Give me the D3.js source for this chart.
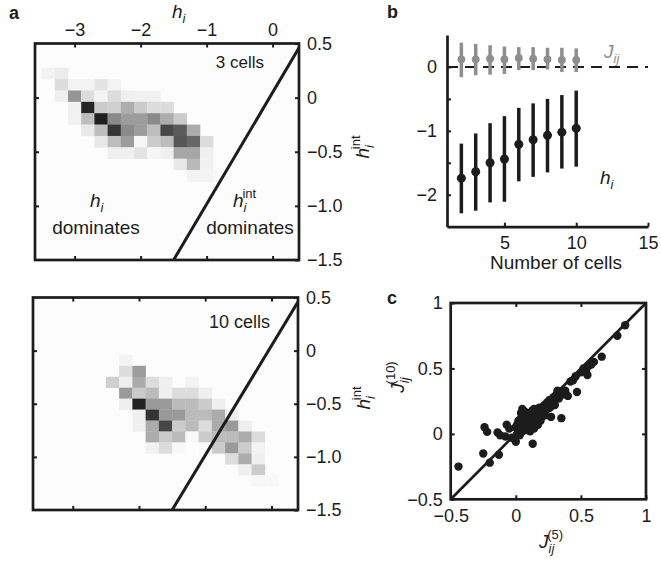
<!DOCTYPE html>
<html><head><meta charset="utf-8">
<script src="https://cdn.jsdelivr.net/npm/d3@7"></script>
<style>
body{margin:0;background:#fff;}
svg{display:block;font-family:"Liberation Sans",Arial,Helvetica,sans-serif;}
</style></head><body>
<svg id="chart" width="661" height="561"></svg>
<script>
// ---------------- DATA ----------------
// panel a
const hiTicks = [-3, -2, -1, 0];
const hintTicks = [0.5, 0, -0.5, -1, -1.5];
const hintLabels = ["0.5", "0", "\u22120.5", "\u22121.0", "\u22121.5"];
const binDx = 0.2;
// 3 cells histogram (rows top->bottom, columns from h = -3.5 in 0.2 steps), darkness 0..1
const heat3X0 = -3.5, heat3Y0 = 0.276, heat3Dy = 0.105;
const heat3 = [
  [0.05,0.08,0,0,0,0,0,0,0,0,0,0,0,0],
  [0,0.15,0.05,0.05,0.12,0.05,0,0,0,0,0,0,0,0],
  [0,0.07,0.45,0.15,0.05,0.15,0.07,0.06,0.06,0,0,0,0,0],
  [0,0,0.06,0.93,0.22,0.2,0.35,0.22,0.15,0.15,0,0,0,0],
  [0,0,0.06,0.28,0.95,0.5,0.42,0.42,0.5,0.35,0.22,0,0,0],
  [0,0,0,0.1,0.28,0.86,0.5,0.42,0.28,0.78,0.7,0.36,0,0],
  [0,0,0,0,0.1,0.28,0.42,0.04,0.22,0.28,0.72,0.65,0.15,0],
  [0,0,0,0,0,0.07,0.07,0.12,0.04,0.07,0.38,0.38,0.07,0],
  [0,0,0,0,0,0,0,0,0,0,0.1,0.3,0.06,0],
  [0,0,0,0,0,0,0,0,0,0,0,0.05,0.05,0.03]
];
// 10 cells histogram (columns from h = -2.5)
const heat10X0 = -2.5, heat10Y0 = -0.04, heat10Dy = 0.103;
const heat10 = [
  [0,0.05,0,0,0,0,0,0,0,0,0,0,0],
  [0,0.15,0.42,0,0,0,0,0,0,0,0,0,0],
  [0.2,0.07,0.36,0.15,0.07,0,0.05,0,0,0,0,0,0],
  [0,0.43,0.22,0.29,0.07,0.15,0.15,0.07,0,0,0,0,0],
  [0,0.07,0.94,0.43,0.43,0.29,0.29,0.22,0.07,0,0,0,0],
  [0,0,0.07,0.87,0.43,0.43,0.29,0.29,0.36,0.07,0,0,0],
  [0,0,0.07,0.36,0.79,0.22,0.29,0.15,0.36,0.43,0.07,0,0],
  [0,0,0,0.36,0.22,0.29,0.03,0.22,0.29,0.29,0.36,0.15,0],
  [0,0,0,0.06,0.15,0.03,0,0.03,0.22,0.43,0.22,0.05,0],
  [0,0,0,0,0,0,0,0,0,0.15,0.36,0.07,0],
  [0,0,0,0,0,0,0,0,0,0,0.07,0.22,0],
  [0,0,0,0,0,0,0,0,0,0,0,0.04,0.03]
];
const boundaryLine = [[-1.5, -1.5], [0.4, 0.46]];

// panel b
const nCells = [2, 3, 4, 5, 6, 7, 8, 9, 10];
const hMean = [-1.74, -1.64, -1.50, -1.44, -1.21, -1.14, -1.07, -1.02, -0.96];
const hLow  = [-2.29, -2.25, -2.12, -2.11, -1.79, -1.72, -1.65, -1.59, -1.56];
const hHigh = [-1.20, -1.04, -0.88, -0.77, -0.64, -0.57, -0.50, -0.44, -0.37];
const jMean = [0.12, 0.12, 0.13, 0.12, 0.14, 0.13, 0.12, 0.11, 0.11];
const jLow  = [-0.16, -0.13, -0.12, -0.11, -0.05, -0.05, -0.04, -0.08, -0.08];
const jHigh = [0.38, 0.36, 0.34, 0.32, 0.31, 0.31, 0.30, 0.30, 0.29];
const bYTicks = [0, -0.5, -1, -1.5, -2];
const bXTicks = [5, 10, 15];

// panel c
const cTicks = [-0.5, 0, 0.5, 1];
const cTickLabels = ["\u22120.5", "0", "0.5", "1"];
const j5  = [-0.44,-0.25,-0.2,-0.13,-0.24,-0.22,-0.14,-0.12,-0.08,-0.07,-0.05,-0.03,0.0,0.01,0.13,0.05,
  0.02,0.03,0.04,0.04,0.05,0.06,0.06,0.07,0.08,0.08,0.09,0.1,0.1,0.11,0.12,0.12,0.13,0.14,0.14,0.15,0.16,0.17,0.17,0.18,0.19,
  0.2,0.21,0.22,0.23,0.24,0.25,0.26,0.27,0.28,0.29,0.3,0.31,0.32,0.33,0.35,0.36,0.38,0.4,0.42,0.44,0.47,
  0.5,0.52,0.54,0.55,0.56,0.58,0.6,0.66,0.78,0.84,
  0.0,0.02,0.03,0.07,0.09,0.11,0.13,0.15,0.18,0.2,0.22,0.24,0.26,0.3,0.34,0.05,0.08,0.1,0.12,0.14,0.16,0.26,0.27,0.36,0.46,
  0.01,0.03,0.05,0.06,0.07,0.09,0.1,0.11,0.13,0.15,0.16,0.18,0.19,0.21,0.23,0.25,0.27,0.29,0.06,0.08,0.12,0.17,0.22,0.04,0.14];
const j10 = [-0.25,-0.15,-0.22,-0.16,0.05,0.015,0.01,-0.01,-0.02,0.07,0.04,-0.03,-0.06,0.0,-0.075,0.19,
  0.03,0.08,0.05,0.12,0.02,0.1,0.15,0.06,0.12,0.03,0.09,0.15,0.05,0.11,0.08,0.17,0.13,0.04,0.1,0.16,0.12,0.07,0.19,0.15,0.1,
  0.2,0.16,0.22,0.18,0.24,0.2,0.26,0.13,0.24,0.28,0.22,0.3,0.33,0.27,0.12,0.3,0.33,0.29,0.4,0.41,0.32,
  0.47,0.5,0.48,0.45,0.52,0.53,0.55,0.59,0.75,0.83,
  0.05,0.1,-0.01,0.17,0.14,0.02,0.18,0.09,0.2,0.13,0.17,0.19,0.22,0.27,0.31,0.09,0.07,0.1,0.13,0.14,0.17,0.2,0.13,0.33,0.44,
  0.07,0.04,0.13,0.08,0.1,0.06,0.13,0.14,0.1,0.12,0.08,0.13,0.17,0.19,0.2,0.23,0.21,0.25,0.04,0.16,0.06,0.11,0.14,0.16,0.19];

// ---------------- DRAW ----------------
const svg = d3.select("#chart");
const INK = "#1c1c1c";
const FS = 18;      // tick labels
const FM = 19;      // math / titles

function gray(v) { const c = Math.round(255 * (1 - 0.92 * v)); return `rgb(${c},${c},${c})`; }

function mathText(g, x, y, base, sub, sup, opt = {}) {
  const t = g.append("text").attr("x", x).attr("y", y)
    .attr("text-anchor", opt.anchor || "start")
    .attr("fill", opt.fill || INK).attr("font-size", FM);
  if (opt.rotate) t.attr("transform", `rotate(-90,${x},${y})`);
  t.append("tspan").attr("font-style", "italic").text(base);
  t.append("tspan").attr("font-style", "italic").attr("font-size", 13).attr("dy", 5).text(sub);
  if (sup) {
    const subW = opt.subW || 4;
    t.append("tspan").attr("font-size", 13).attr("dx", -subW).attr("dy", -14).text(sup);
  }
  return t;
}

function plainText(g, x, y, txt, size, anchor) {
  return g.append("text").attr("x", x).attr("y", y).attr("text-anchor", anchor || "middle")
    .attr("font-size", size).attr("fill", INK).text(txt);
}

function drawHeatPanel(box, data, x0, y0, dy, label, labelPos, labelSize, annot) {
  const x = d3.scaleLinear([-3.6, 0.4], [box.l, box.r]);
  const y = d3.scaleLinear([-1.5, 0.5], [box.b, box.t]);
  const g = svg.append("g");
  const clipId = "clip" + Math.round(box.t);
  g.append("clipPath").attr("id", clipId).append("rect")
    .attr("x", box.l).attr("y", box.t).attr("width", box.r - box.l).attr("height", box.b - box.t);
  g.append("rect").attr("x", box.l).attr("y", box.t).attr("width", box.r - box.l).attr("height", box.b - box.t)
    .attr("fill", "#fcfcfc");
  const cells = [];
  data.forEach((row, r) => row.forEach((v, c) => { if (v > 0) cells.push({ r, c, v }); }));
  g.append("g").attr("clip-path", `url(#${clipId})`).selectAll("rect").data(cells).join("rect")
    .attr("x", d => x(x0 + d.c * binDx))
    .attr("y", d => y(y0 - d.r * dy))
    .attr("width", d => x(x0 + (d.c + 1) * binDx) - x(x0 + d.c * binDx) + 0.3)
    .attr("height", d => y(y0 - (d.r + 1) * dy) - y(y0 - d.r * dy) + 0.3)
    .attr("fill", d => gray(d.v));
  g.append("g").attr("clip-path", `url(#${clipId})`).append("line")
    .attr("x1", x(boundaryLine[0][0])).attr("y1", y(boundaryLine[0][1]))
    .attr("x2", x(boundaryLine[1][0])).attr("y2", y(boundaryLine[1][1]))
    .attr("stroke", INK).attr("stroke-width", 3);

  const top = g.append("g").attr("transform", `translate(0,${box.t})`)
    .call(d3.axisTop(x).tickValues(hiTicks).tickSize(-4).tickSizeOuter(0).tickPadding(8)
      .tickFormat(box.topLabels ? (d => d === 0 ? "0" : "\u2212" + Math.abs(d)) : () => ""));
  const bot = g.append("g").attr("transform", `translate(0,${box.b})`)
    .call(d3.axisBottom(x).tickValues(hiTicks).tickSize(-4).tickSizeOuter(0).tickFormat(() => ""));
  const left = g.append("g").attr("transform", `translate(${box.l},0)`)
    .call(d3.axisLeft(y).tickValues([0, -0.5, -1]).tickSize(-4).tickSizeOuter(0).tickFormat(() => ""));
  const right = g.append("g").attr("transform", `translate(${box.r},0)`)
    .call(d3.axisRight(y).tickValues(hintTicks).tickSize(-4).tickSizeOuter(0).tickPadding(8)
      .tickFormat((d, i) => hintLabels[i]));
  [top, bot, left, right].forEach(a => {
    a.select(".domain").remove();
    a.selectAll("line").attr("stroke", INK).attr("stroke-width", 2);
    a.selectAll("text").attr("font-size", FS).attr("fill", INK).attr("font-family", null);
  });
  g.append("rect").attr("x", box.l).attr("y", box.t).attr("width", box.r - box.l).attr("height", box.b - box.t)
    .attr("fill", "none").attr("stroke", INK).attr("stroke-width", 2.7);

  plainText(g, labelPos[0], labelPos[1], label, labelSize, "end");
  mathText(g, box.titleX, box.titleY, "h", "i", "int", { rotate: true, anchor: "middle" });
  if (annot) annot(g, x, y);
}

// panel a top
drawHeatPanel({ l: 35, r: 299, t: 43.5, b: 260, topLabels: true, titleX: 369, titleY: 147 },
  heat3, heat3X0, heat3Y0, heat3Dy, "3 cells", [264, 68], 17, (g) => {
    mathText(g, 172, 18, "h", "i", null);
    mathText(g, 90, 207, "h", "i", null);
    plainText(g, 96, 234, "dominates", FM);
    mathText(g, 233, 207, "h", "i", "int");
    plainText(g, 250, 234, "dominates", FM);
  });
// panel a bottom
drawHeatPanel({ l: 33, r: 298, t: 297.5, b: 510, topLabels: false, titleX: 370, titleY: 398 },
  heat10, heat10X0, heat10Y0, heat10Dy, "10 cells", [270, 328], 18, null);

svg.append("text").attr("x", 9).attr("y", 19).attr("font-weight", "bold").attr("font-size", 18).attr("fill", INK).text("a");

// ---------------- panel b ----------------
{
  const x = d3.scaleLinear([1, 15], [447, 648]);
  const y = d3.scaleLinear([-2.5, 0.5], [226.7, 35]);
  const g = svg.append("g");
  const ax = g.append("g").attr("transform", "translate(0,226.7)")
    .call(d3.axisBottom(x).tickValues(bXTicks).tickSize(-4).tickSizeOuter(0).tickPadding(10));
  const ay = g.append("g").attr("transform", "translate(447,0)")
    .call(d3.axisLeft(y).tickValues(bYTicks).tickSize(-4).tickSizeOuter(0).tickPadding(10)
      .tickFormat(d => Number.isInteger(d) ? (d < 0 ? "\u2212" + Math.abs(d) : "0") : ""));
  [ax, ay].forEach(a => {
    a.select(".domain").attr("stroke", INK).attr("stroke-width", 2.7);
    a.selectAll("line").attr("stroke", INK).attr("stroke-width", 2);
    a.selectAll("text").attr("font-size", FS).attr("fill", INK).attr("font-family", null);
  });
  g.append("line").attr("x1", x(1)).attr("x2", x(15)).attr("y1", y(0)).attr("y2", y(0))
    .attr("stroke", INK).attr("stroke-width", 2).attr("stroke-dasharray", "11,7");
  const GRAY = "#8e8e8e";
  g.selectAll("line.jbar").data(nCells).join("line").attr("class", "jbar")
    .attr("x1", d => x(d)).attr("x2", d => x(d))
    .attr("y1", (d, i) => y(jLow[i])).attr("y2", (d, i) => y(jHigh[i]))
    .attr("stroke", GRAY).attr("stroke-width", 3.5);
  g.selectAll("circle.jdot").data(nCells).join("circle").attr("class", "jdot")
    .attr("cx", d => x(d)).attr("cy", (d, i) => y(jMean[i])).attr("r", 3.9).attr("fill", GRAY);
  g.selectAll("line.hbar").data(nCells).join("line").attr("class", "hbar")
    .attr("x1", d => x(d)).attr("x2", d => x(d))
    .attr("y1", (d, i) => y(hLow[i])).attr("y2", (d, i) => y(hHigh[i]))
    .attr("stroke", INK).attr("stroke-width", 3.5);
  g.selectAll("circle.hdot").data(nCells).join("circle").attr("class", "hdot")
    .attr("cx", d => x(d)).attr("cy", (d, i) => y(hMean[i])).attr("r", 4.5).attr("fill", INK);
  mathText(g, 604, 58, "J", "ij", null, { fill: GRAY });
  mathText(g, 600, 184, "h", "i", null);
  plainText(g, 556, 269, "Number of cells", FM);
  svg.append("text").attr("x", 387).attr("y", 18).attr("font-weight", "bold").attr("font-size", 18).attr("fill", INK).text("b");
}

// ---------------- panel c ----------------
{
  const box = { l: 450.7, r: 646, t: 303, b: 499.3 };
  const x = d3.scaleLinear([-0.5, 1], [box.l, box.r]);
  const y = d3.scaleLinear([-0.5, 1], [box.b, box.t]);
  const g = svg.append("g");
  g.append("clipPath").attr("id", "clipc").append("rect")
    .attr("x", box.l).attr("y", box.t).attr("width", box.r - box.l).attr("height", box.b - box.t);
  const fmt = (d) => cTickLabels[cTicks.indexOf(d)];
  const ab = g.append("g").attr("transform", `translate(0,${box.b})`)
    .call(d3.axisBottom(x).tickValues(cTicks).tickSize(-4).tickSizeOuter(0).tickPadding(10).tickFormat(fmt));
  const al = g.append("g").attr("transform", `translate(${box.l},0)`)
    .call(d3.axisLeft(y).tickValues(cTicks).tickSize(-4).tickSizeOuter(0).tickPadding(8).tickFormat(fmt));
  const at = g.append("g").attr("transform", `translate(0,${box.t})`)
    .call(d3.axisTop(x).tickValues([0, 0.5]).tickSize(-4).tickSizeOuter(0).tickFormat(() => ""));
  const ar = g.append("g").attr("transform", `translate(${box.r},0)`)
    .call(d3.axisRight(y).tickValues([0, 0.5]).tickSize(-4).tickSizeOuter(0).tickFormat(() => ""));
  [ab, al, at, ar].forEach(a => {
    a.select(".domain").remove();
    a.selectAll("line").attr("stroke", INK).attr("stroke-width", 2);
    a.selectAll("text").attr("font-size", FS).attr("fill", INK).attr("font-family", null);
  });
  g.append("g").attr("clip-path", "url(#clipc)").append("line")
    .attr("x1", x(-0.5)).attr("y1", y(-0.5)).attr("x2", x(1)).attr("y2", y(1))
    .attr("stroke", INK).attr("stroke-width", 2.7);
  g.append("g").selectAll("circle").data(j5.map((v, i) => [v, j10[i]])).join("circle")
    .attr("cx", d => x(d[0])).attr("cy", d => y(d[1])).attr("r", 4.2).attr("fill", INK);
  g.append("rect").attr("x", box.l).attr("y", box.t).attr("width", box.r - box.l).attr("height", box.b - box.t)
    .attr("fill", "none").attr("stroke", INK).attr("stroke-width", 2.7);
  mathText(g, 539, 548, "J", "ij", "(5)", { subW: 7 });
  mathText(g, 404, 377, "J", "ij", "(10)", { rotate: true, anchor: "middle", subW: 7 });
  svg.append("text").attr("x", 387).attr("y", 304).attr("font-weight", "bold").attr("font-size", 18).attr("fill", INK).text("c");
}
</script>
</body></html>
